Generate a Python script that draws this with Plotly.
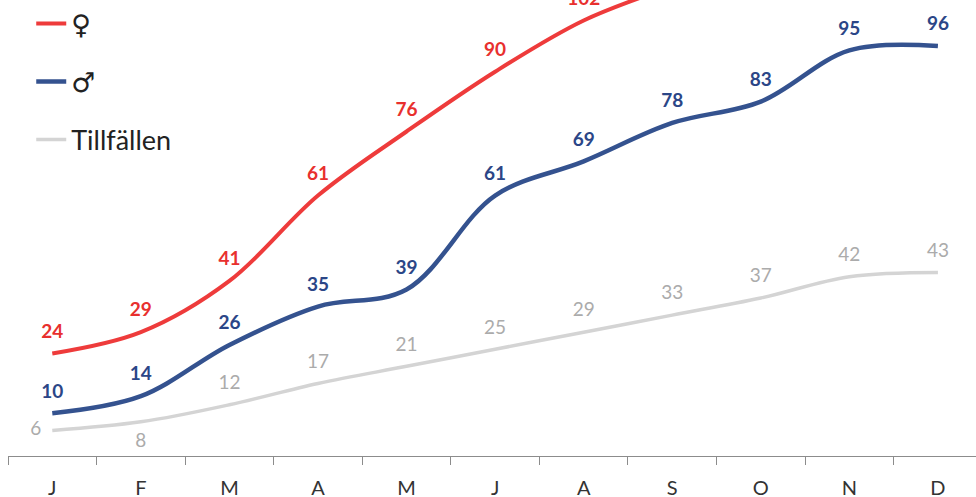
import plotly.graph_objects as go

# month labels (Swedish initials) and monthly cumulative values
months = ['J', 'F', 'M', 'A', 'M', 'J', 'A', 'S', 'O', 'N', 'D']
kvinnor = [24, 29, 41, 61, 76, 90, 102, 110, 117, 123, 127]
man = [10, 14, 26, 35, 39, 61, 69, 78, 83, 95, 96]
tillfallen = [6, 8, 12, 17, 21, 25, 29, 33, 37, 42, 43]

x = list(range(len(months)))
FONT = 'Lato'
PLOT_H = 456

fig = go.Figure()

fig.add_trace(go.Scatter(
    x=x, y=kvinnor, name='♀', mode='lines+markers+text', line_shape='spline',
    line=dict(color='#EE3B3B', width=4),
    marker=dict(size=16, color='rgba(0,0,0,0)'),
    text=[str(v) for v in kvinnor], textposition='top center',
    textfont=dict(family=FONT, size=19, color='#E8302E', weight='bold'),
    cliponaxis=False, legend='legend'))

fig.add_trace(go.Scatter(
    x=x, y=man, name='♂', mode='lines+markers+text', line_shape='spline',
    line=dict(color='#34528F', width=4.5),
    marker=dict(size=16, color='rgba(0,0,0,0)'),
    text=[str(v) for v in man], textposition='top center',
    textfont=dict(family=FONT, size=19, color='#2B4687', weight='bold'),
    cliponaxis=False, legend='legend2'))

grey_pos = ['middle left', 'bottom center'] + ['top center'] * 9
fig.add_trace(go.Scatter(
    x=x, y=tillfallen, name='Tillfällen', mode='lines+markers+text',
    line_shape='spline',
    line=dict(color='#D4D4D4', width=3.5),
    marker=dict(size=16, color='rgba(0,0,0,0)'),
    text=[str(v) for v in tillfallen], textposition=grey_pos,
    textfont=dict(family=FONT, size=19, color='#ABABAB'),
    cliponaxis=False, legend='legend3'))

legend_style = dict(xanchor='left', yanchor='middle',
                    bgcolor='rgba(0,0,0,0)', itemwidth=30)
sym_font = dict(family='DejaVu Sans', size=27, color='#222222')
fig.update_layout(
    legend=dict(x=0.024, y=1 - 24 / PLOT_H, font=sym_font, **legend_style),
    legend2=dict(x=0.024, y=1 - 82 / PLOT_H, font=sym_font, **legend_style),
    legend3=dict(x=0.024, y=1 - 140 / PLOT_H,
                 font=dict(family=FONT, size=27, color='#222222'),
                 **legend_style),
)

fig.update_xaxes(
    range=[-0.5, 10.43], tickvals=x, ticktext=months, ticks='outside',
    ticklen=14, tickcolor='rgba(0,0,0,0)',
    showgrid=False, zeroline=False, showline=True, linecolor='#8C8C8C',
    linewidth=1, tickfont=dict(family=FONT, size=20, color='#333333'),
    minor=dict(tickvals=[i - 0.5 for i in x], ticks='outside', ticklen=8,
               tickcolor='#8C8C8C', showgrid=False),
    automargin=False, fixedrange=True)
fig.update_yaxes(range=[0, 106.8], visible=False, fixedrange=True)

fig.update_layout(
    width=976, height=497,
    margin=dict(l=8, r=0, t=0, b=497 - PLOT_H, autoexpand=False),
    paper_bgcolor='#ffffff', plot_bgcolor='#ffffff', showlegend=True)

# drop the browser's default body margin so the figure fills the window
fig.write_html('out.html', config={'displayModeBar': False},
               post_script="document.body.style.margin='0';")
